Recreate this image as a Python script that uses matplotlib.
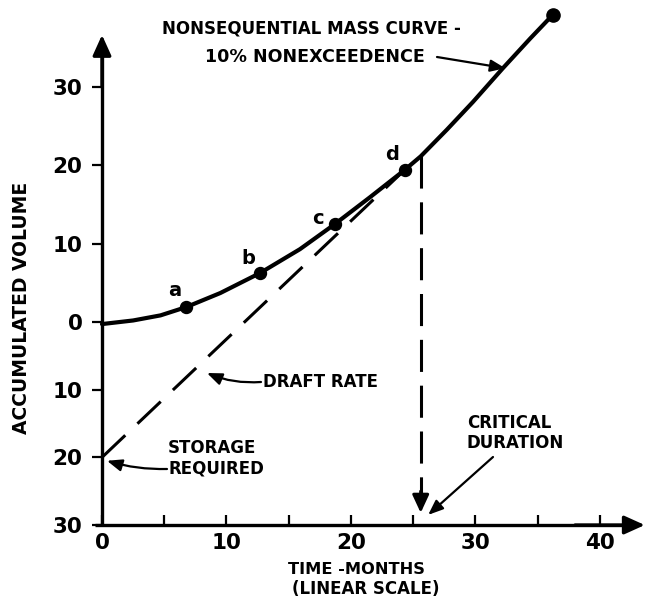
import numpy as np
import matplotlib
matplotlib.use("Agg")
import matplotlib.pyplot as plt
from matplotlib.ticker import FixedLocator, FixedFormatter, NullFormatter

# Nonsequential mass curve, 10% nonexceedence (time in months, accumulated volume)
curve_t = [0.0, 2.5, 4.7, 6.75, 9.5, 12.7, 15.9, 18.7, 21.5, 24.3, 25.6,
           27.7, 29.8, 32.2, 34.4, 36.2]
curve_v = [-0.3, 0.2, 0.85, 1.9, 3.7, 6.26, 9.3, 12.5, 15.9, 19.4, 21.15,
           24.55, 28.1, 32.4, 36.2, 39.2]

# Marked points on the curve
point_names = ["a", "b", "c", "d"]
point_t = [6.75, 12.7, 18.7, 24.3]
point_v = [1.9, 6.26, 12.5, 19.4]
end_t, end_v = 36.2, 39.2

# Draft-rate line: starts at the storage required, tangent near d
draft_t = [0.0, 24.3]
draft_v = [-20.0, 19.4]

# Critical duration
crit_t = 25.6
crit_top_v = 21.15

# Axis ticks (volumes below zero are labelled without sign)
ytick_vals = [-30, -20, -10, 0, 10, 20, 30]
ytick_labels = ["30", "20", "10", "0", "10", "20", "30"]
xtick_vals = [0, 10, 20, 30, 40]
xtick_labels = ["0", "10", "20", "30", "40"]
xtick_minor = [5, 15, 25, 35]

plt.rcParams["font.family"] = ["DejaVu Sans"]
plt.rcParams["font.weight"] = "bold"

W, H = 653, 613
fig = plt.figure(figsize=(W / 100, H / 100), dpi=100)
ax = fig.add_axes([0, 0, 1, 1])
ax.patch.set_alpha(0)

# Storage side of the axis is drawn at a slightly compressed scale
ratio = 0.8638
def fwd(y):
    y = np.asarray(y, dtype=float)
    return np.where(y < 0, y * ratio, y)
def inv(v):
    v = np.asarray(v, dtype=float)
    return np.where(v < 0, v / ratio, v)

ax.set_yscale("function", functions=(fwd, inv))
ax.set_xlim(-8.193, 44.26)
ax.set_ylim(-43.0, 41.11)

# Axis lines
for side in ["top", "right"]:
    ax.spines[side].set_visible(False)
ax.spines["left"].set_position(("data", 0))
ax.spines["bottom"].set_position(("data", -30))
ax.spines["left"].set_bounds(-30, 35.5)
ax.spines["bottom"].set_bounds(-0.56, 42.5)
for side in ["left", "bottom"]:
    ax.spines[side].set_linewidth(2.4)
    ax.spines[side].set_capstyle("butt")

axis_arrow = dict(arrowstyle="-|>,head_length=0.62,head_width=0.28",
                  color="black", lw=2.4, mutation_scale=20,
                  shrinkA=0, shrinkB=0)
ax.annotate("", xy=(0, 36.65), xytext=(0, 30), arrowprops=axis_arrow)
ax.annotate("", xy=(43.6, -30), xytext=(38, -30), arrowprops=axis_arrow)

ax.yaxis.set_major_locator(FixedLocator(ytick_vals))
ax.yaxis.set_major_formatter(FixedFormatter(ytick_labels))
ax.yaxis.set_minor_locator(FixedLocator([]))
ax.xaxis.set_major_locator(FixedLocator(xtick_vals))
ax.xaxis.set_major_formatter(FixedFormatter(xtick_labels))
ax.xaxis.set_minor_locator(FixedLocator(xtick_minor))
ax.xaxis.set_minor_formatter(NullFormatter())
ax.tick_params(axis="y", direction="out", length=7, width=1.6, pad=7,
               labelsize=15.5)
ax.tick_params(axis="x", which="both", direction="in", length=7, width=1.6,
               pad=6, labelsize=15.5)

# Mass curve and points
ax.plot(curve_t, curve_v, color="black", lw=3.0, solid_capstyle="round",
        solid_joinstyle="round", zorder=5)
ax.plot(point_t, point_v, "o", color="black", ms=8.6, zorder=6)
ax.plot([end_t], [end_v], "o", color="black", ms=9.5, zorder=6)

# Draft rate
ax.plot(draft_t, draft_v, color="black", lw=2.2, linestyle=(0, (10.5, 5.5)),
        dash_capstyle="butt", zorder=4)

# Critical duration marker
ax.plot([crit_t, crit_t], [crit_top_v, -25.6], color="black", lw=2.2,
        linestyle=(0, (10.5, 4.5)), dash_capstyle="butt", zorder=4)
ax.annotate("", xy=(crit_t, -28.2), xytext=(crit_t, -25.0),
            arrowprops=dict(arrowstyle="-|>,head_length=0.54,head_width=0.25",
                            color="black", lw=2.2, mutation_scale=20,
                            shrinkA=0, shrinkB=0))

# Point letters
letter_px = [(175, 291), (248, 259), (318, 218), (392, 154)]

def fx(px):
    return px / W

def fy(py):
    return 1 - py / H

for name, (px, py) in zip(point_names, letter_px):
    ax.text(fx(px), fy(py), name, transform=ax.transAxes, fontsize=14,
            ha="center", va="center")

# Labels
txt = dict(transform=ax.transAxes, fontsize=12, va="center")
ax.text(fx(311), fy(29), "NONSEQUENTIAL MASS CURVE -", ha="center", **txt)
ax.text(fx(315), fy(57), "10% NONEXCEEDENCE", ha="center",
        **{**txt, "fontsize": 12.6})
ax.text(fx(263), fy(382), "DRAFT RATE", ha="left", **txt)
ax.text(fx(168), fy(448), "STORAGE", ha="left", **txt)
ax.text(fx(168), fy(469), "REQUIRED", ha="left", **txt)
ax.text(fx(467), fy(423), "CRITICAL", ha="left", **txt)
ax.text(fx(467), fy(443), "DURATION", ha="left", **txt)

ax.text(fx(357), fy(570), "TIME -MONTHS", ha="center", **{**txt, "fontsize": 11.7})
ax.text(fx(366), fy(589), "(LINEAR SCALE)", ha="center", **{**txt, "fontsize": 12.0})
ax.text(fx(22), fy(308), "ACCUMULATED VOLUME", ha="center", rotation=90,
        **{**txt, "fontsize": 13.5})

# Pointer arrows
pointer = dict(arrowstyle="-|>,head_length=0.45,head_width=0.18",
               color="black", lw=1.6, mutation_scale=20,
               shrinkA=0, shrinkB=0)
ax.annotate("", xy=(32.4, 32.4), xytext=(fx(437), fy(57)),
            textcoords="axes fraction",
            arrowprops={**pointer, "connectionstyle": "arc3,rad=0.0"})
ax.annotate("", xy=(8.43, -7.53), xytext=(fx(261), fy(382)),
            textcoords="axes fraction",
            arrowprops={**pointer, "connectionstyle": "arc3,rad=-0.12"})
ax.annotate("", xy=(0.4, -20.5), xytext=(fx(167), fy(469)),
            textcoords="axes fraction",
            arrowprops={**pointer, "connectionstyle": "arc3,rad=-0.08"})
ax.annotate("", xy=(26.2, -28.5), xytext=(fx(493), fy(457)),
            textcoords="axes fraction",
            arrowprops={**pointer, "connectionstyle": "arc3,rad=0.0"})

fig.savefig("out.png", dpi=100)
